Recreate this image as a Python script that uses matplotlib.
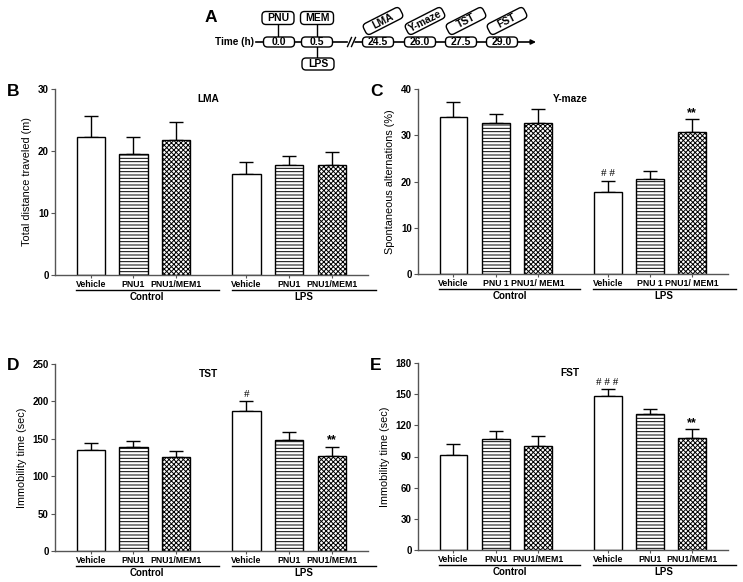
import numpy as np
import matplotlib
matplotlib.use('Agg')
import matplotlib.pyplot as plt
from matplotlib.patches import FancyBboxPatch
from matplotlib.transforms import Affine2D

plt.rcParams['font.family'] = ['Liberation Sans', 'DejaVu Sans']
plt.rcParams['font.weight'] = 'bold'
plt.rcParams['font.size'] = 7
plt.rcParams['hatch.linewidth'] = 0.7

# Data (mean, upper SEM)
lma_mean = [22.3, 19.5, 21.7, 16.3, 17.7, 17.7]
lma_sem = [3.3, 2.7, 2.9, 2.0, 1.5, 2.1]
ymaze_mean = [33.9, 32.7, 32.7, 17.8, 20.5, 30.6]
ymaze_sem = [3.2, 1.9, 2.9, 2.4, 1.8, 2.9]
tst_mean = [135.0, 138.6, 125.7, 187.8, 148.5, 127.5]
tst_sem = [9.5, 9.0, 8.5, 12.6, 11.2, 12.0]
fst_mean = [91.6, 106.4, 100.0, 148.5, 130.8, 107.7]
fst_sem = [10.6, 7.7, 9.6, 6.7, 4.8, 8.6]

treat_labels = ['Vehicle', 'PNU1', 'PNU1/MEM1']
treat_labels_c = ['Vehicle', 'PNU 1', 'PNU1/ MEM1']
group_labels = ['Control', 'LPS']

time_labels = ['0.0', '0.5', '24.5', '26.0', '27.5', '29.0']
test_labels = ['LMA', 'Y-maze', 'TST', 'FST']

# layout
pos = np.array([0, 1, 2, 3.65, 4.65, 5.65])
hatches = [None, '-----', 'xxxxxxx']
W, H = 743, 582


def draw_panel(rect, means, sems, ticklabels, ymax, ystep, ylabel, title, marks, letter):
    l, t, r, b = rect
    ax = fig.add_axes([l / W, 1 - b / H, (r - l) / W, (b - t) / H])
    ax.errorbar(pos, means, yerr=[np.zeros(len(means)), sems], fmt='none',
                ecolor='black', elinewidth=1.0, capsize=5, capthick=1.0, zorder=1)
    for i in range(len(means)):
        ax.bar(pos[i], means[i], width=0.66, color='white', edgecolor='black',
               hatch=hatches[i % 3], lw=1.0, zorder=2)
    for i, m in marks.items():
        if '#' in m:
            ax.annotate(m, (pos[i], means[i] + sems[i]), xytext=(0, 1.5),
                        textcoords='offset points', ha='center', va='bottom',
                        fontsize=8, fontweight='normal', family='Liberation Serif')
        else:
            ax.annotate(m, (pos[i], means[i] + sems[i]), xytext=(0, 0),
                        textcoords='offset points', ha='center', va='bottom',
                        fontsize=9, fontweight='bold')
    for s in ['top', 'right']:
        ax.spines[s].set_visible(False)
    for s in ['left', 'bottom']:
        ax.spines[s].set_color('#555555')
        ax.spines[s].set_linewidth(1.0)
    ax.set_xlim(-0.84, 6.5)
    ax.set_ylim(0, ymax)
    ax.set_yticks(np.arange(0, ymax + 1, ystep))
    ax.set_xticks(pos)
    ax.set_xticklabels(ticklabels * 2, fontsize=6.3)
    ax.tick_params(axis='x', length=2, width=0.8, color='#555555', pad=1.5)
    ax.tick_params(axis='y', length=3, width=0.8, color='#555555', pad=1.5, labelsize=7)
    ax.set_ylabel(ylabel, labelpad=4, fontsize=7.8)
    ax.text(0.49, 0.975, title, transform=ax.transAxes, ha='center', va='top', fontsize=7.3)
    hpx = b - t
    tr = ax.get_xaxis_transform()
    for (x0, x1), g in zip([(-0.35, 3.0), (3.3, 6.68)], group_labels):
        ax.plot([x0, x1], [-15 / hpx] * 2, transform=tr, clip_on=False, color='black', lw=1.0)
        ax.text((x0 + x1) / 2, -17 / hpx, g, transform=tr, ha='center', va='top', fontsize=7)
    fig.text((l - 48) / W, 1 - (t + 2) / H, letter, fontsize=12.5, ha='left', va='center')
    return ax


fig = plt.figure(figsize=(7.43, 5.82), dpi=100)

draw_panel((55, 89, 368, 275), lma_mean, lma_sem, treat_labels, 30, 10,
           'Total distance traveled (m)', 'LMA', {}, 'B')
draw_panel((418, 89, 728, 274), ymaze_mean, ymaze_sem, treat_labels_c, 40, 10,
           'Spontaneous alternations (%)', 'Y-maze', {3: '# #', 5: '**'}, 'C')
draw_panel((55, 364, 368, 551), tst_mean, tst_sem, treat_labels, 250, 50,
           'Immobility time (sec)', 'TST', {3: '#', 5: '**'}, 'D')
draw_panel((418, 363, 728, 550), fst_mean, fst_sem, treat_labels, 180, 30,
           'Immobility time (sec)', 'FST', {3: '# # #', 5: '**'}, 'E')

# Panel A: timeline, drawn in pixel space
ax0 = fig.add_axes([0, 0, 1, 1], facecolor='none')
ax0.set_xlim(0, W)
ax0.set_ylim(H, 0)
ax0.axis('off')

ty = 42
time_x = [279, 317, 378, 420, 461, 502]
fig.text(205 / W, 1 - 17 / H, 'A', fontsize=12.5, ha='left', va='center')
ax0.text(254, ty, 'Time (h)', ha='right', va='center', fontsize=7.2)
ax0.plot([256, 347], [ty, ty], color='black', lw=1.2)
ax0.plot([347.5, 351.5], [ty + 4.5, ty - 4.5], color='black', lw=1.0)
ax0.plot([351.5, 355.5], [ty + 4.5, ty - 4.5], color='black', lw=1.0)
ax0.annotate('', xy=(536, ty), xytext=(355, ty),
             arrowprops=dict(arrowstyle='-|>', lw=1.2, color='black', mutation_scale=7,
                             shrinkA=0, shrinkB=0))


def box(cx, cy, w, h, label, angle=0, fs=7.5):
    p = FancyBboxPatch((cx - w / 2, cy - h / 2), w, h,
                       boxstyle='round,pad=0,rounding_size=4',
                       fc='white', ec='black', lw=1.0, zorder=3)
    if angle:
        p.set_transform(Affine2D().rotate_deg_around(cx, cy, -angle) + ax0.transData)
    ax0.add_patch(p)
    ax0.text(cx, cy, label, ha='center', va='center', rotation=angle,
             rotation_mode='anchor', fontsize=fs, zorder=4)


for x, lab in zip(time_x, time_labels):
    box(x, ty, 31, 10, lab)

# treatment boxes with connectors
ax0.plot([278, 278], [25, 37], color='black', lw=1.0)
ax0.plot([317, 317], [25, 37], color='black', lw=1.0)
ax0.plot([317, 317], [47, 58], color='black', lw=1.0)
box(278, 18, 32, 13, 'PNU')
box(317, 18, 33, 13, 'MEM')
box(318, 64, 32, 12, 'LPS')

for x, lab in zip(time_x[2:], test_labels):
    box(x + 5, 21, 41, 12, lab, angle=27)

fig.savefig('out.png', dpi=100)
